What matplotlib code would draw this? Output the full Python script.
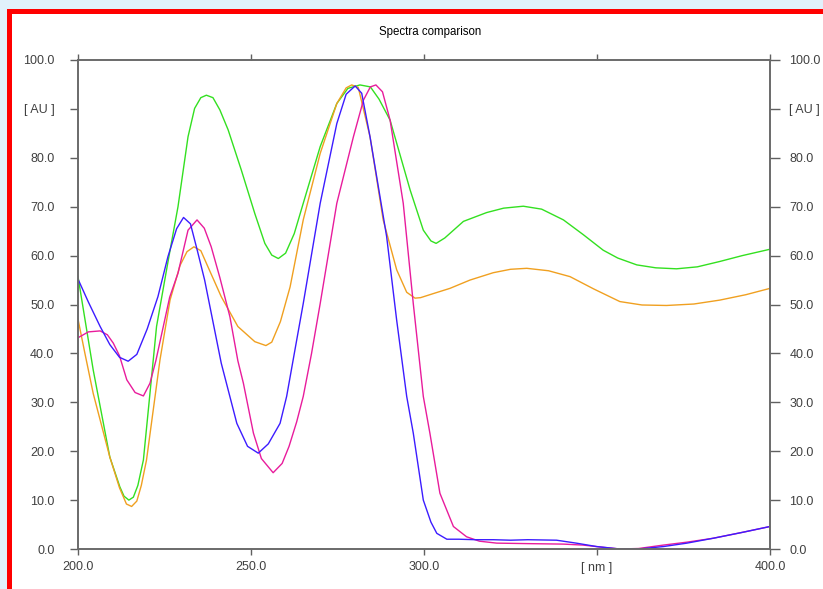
import matplotlib
matplotlib.use("Agg")
import matplotlib.pyplot as plt
from matplotlib.patches import Rectangle

# ----------------------------------------------------------------------------
# DATA: wavelength [nm] -> absorbance [AU]
# ----------------------------------------------------------------------------
green_nm = [200, 204.4, 209.2, 212.1, 213.3, 214.7, 216, 217.3, 218.9, 222.7,
            226.1, 228.9, 231.8, 233.7, 235.5, 237.1, 239, 241, 243.4, 247.2,
            251.1, 254, 256, 257.9, 260, 262.5, 265.1, 270, 274.8, 278,
            281.5, 284.5, 287, 290.2, 296, 299.8, 302, 303.5, 306, 311.4,
            318.1, 323, 328.7, 334, 340.3, 346, 351.8, 356, 361.5, 367,
            373, 379, 385.5, 392, 400]
green_au = [55.7, 36.6, 18.8, 12.7, 10.8, 10.0, 10.6, 13.0, 18.2, 45.5,
            59.1, 70.0, 84.3, 90.1, 92.3, 92.8, 92.3, 89.8, 85.7, 77.5,
            68.6, 62.5, 60.1, 59.4, 60.5, 64.5, 70.7, 82.3, 91.1, 94.2,
            94.9, 94.5, 92.0, 87.7, 73.4, 65.2, 63.0, 62.5, 63.6, 67.0,
            68.8, 69.7, 70.1, 69.5, 67.3, 64.3, 61.1, 59.5, 58.1, 57.5,
            57.3, 57.7, 58.8, 60.0, 61.3]

orange_nm = [200, 202, 204.4, 209.2, 212, 214, 215.5, 217, 218.3, 219.8,
             223.7, 226.6, 229.5, 231.5, 233.5, 235.5, 238, 241.4, 246.2, 251.1,
             254.3, 256, 258.5, 261.3, 265.1, 270, 274.8, 277.5, 279.1, 281,
             284.4, 288.2, 292.1, 295, 297.4, 299, 303, 307.5, 313.3, 320,
             325, 329.7, 336, 342.2, 349, 356.6, 363, 370.1, 378, 385.5,
             393, 400]
orange_au = [47.0, 40.0, 31.8, 18.8, 12.5, 9.2, 8.7, 9.8, 13.0, 18.2,
             38.7, 50.9, 58.0, 60.8, 61.8, 61.0, 57.0, 51.6, 45.5, 42.4,
             41.6, 42.3, 46.5, 53.6, 67.3, 80.9, 91.1, 94.3, 94.9, 94.4,
             84.3, 67.3, 57.1, 52.5, 51.3, 51.4, 52.3, 53.3, 55.0, 56.5,
             57.2, 57.4, 56.9, 55.7, 53.2, 50.6, 49.9, 49.8, 50.1, 50.9,
             52.0, 53.3]

blue_nm = [200, 203, 206.4, 209.2, 212, 214.5, 217, 220, 223.1, 226,
           228.5, 230.5, 232.5, 234.5, 236.6, 239, 241.4, 245.9, 249, 252.1,
           255, 258.4, 260.3, 263.2, 265.1, 270, 274.8, 277.5, 280.1, 282,
           284.4, 289.2, 292.1, 295, 296.9, 299.8, 302, 303.7, 306.6, 310,
           315, 320, 325, 330, 338.3, 344, 349.9, 356.6, 362, 369.2,
           376, 383.6, 392, 400]
blue_au = [55.2, 50.5, 45.5, 41.8, 39.2, 38.4, 39.8, 45.0, 51.6, 59.8,
           65.5, 67.8, 66.5, 61.0, 55.0, 46.5, 38.0, 25.7, 21.0, 19.6,
           21.5, 25.7, 31.2, 42.7, 50.2, 70.7, 87.0, 93.0, 94.7, 93.2,
           84.3, 63.9, 46.8, 31.2, 23.7, 10.0, 5.5, 3.2, 2.0, 2.0,
           1.9, 1.9, 1.8, 1.9, 1.8, 1.2, 0.5, 0.0, 0.0, 0.5,
           1.2, 2.2, 3.4, 4.6]

magenta_nm = [200, 203, 206.4, 208.5, 210.2, 212, 214.1, 216.5, 218.9, 220.8,
              222.5, 224.5, 226.5, 228.9, 231.8, 234.4, 236.5, 238.5, 241, 243.9,
              246.2, 247.8, 250.7, 253, 256.4, 259, 261, 263.2, 265.1, 267.5,
              270, 274.8, 279.6, 282.5, 284.5, 286.1, 288, 290.2, 294, 296.9,
              299.8, 301.7, 304.6, 308.5, 312.3, 316, 321, 330, 340.3, 346,
              351, 356.6, 362, 369.2, 376, 383.6, 392, 400]
magenta_au = [43.2, 44.4, 44.6, 43.8, 42.1, 39.5, 34.6, 32.0, 31.3, 33.9,
              38.5, 45.0, 51.5, 56.4, 65.2, 67.3, 65.6, 61.8, 55.5, 47.5,
              38.5, 33.9, 23.7, 18.5, 15.6, 17.5, 21.0, 26.0, 31.2, 40.0,
              50.2, 70.7, 84.3, 91.8, 94.5, 94.9, 93.5, 87.7, 70.7, 50.2,
              31.2, 23.7, 11.4, 4.6, 2.5, 1.6, 1.2, 1.1, 1.0, 0.8,
              0.4, 0.0, 0.1, 0.8, 1.4, 2.2, 3.4, 4.6]

x_ticks = [200, 250, 300, 350, 400]
x_labels = ["200.0", "250.0", "300.0", "[ nm ]", "400.0"]
y_ticks = list(range(0, 101, 10))
y_labels = ["0.0", "10.0", "20.0", "30.0", "40.0", "50.0", "60.0", "70.0",
            "80.0", "[ AU ]", "100.0"]

# ----------------------------------------------------------------------------
# FIGURE
# ----------------------------------------------------------------------------
fig = plt.figure(figsize=(8.23, 5.89), dpi=100)
fig.patch.set_facecolor("#e1f1fb")

W, H = 823.0, 589.0
# white panel and red frame (left and top edges), kept behind the axes
fig.patches.append(Rectangle((11.5 / W, 0), 1, 1 - 14 / H, transform=fig.transFigure,
                             facecolor="white", edgecolor="none", zorder=-2))
fig.patches.append(Rectangle((6.5 / W, 0), 5 / W, 1 - 9 / H, transform=fig.transFigure,
                             facecolor="#ff0000", edgecolor="none", zorder=-1))
fig.patches.append(Rectangle((6.5 / W, 1 - 14 / H), 1, 5 / H, transform=fig.transFigure,
                             facecolor="#ff0000", edgecolor="none", zorder=-1))

ax = fig.add_axes([78 / W, 40 / H, 692 / W, 489 / H])
ax.set_facecolor("white")

ax.plot(green_nm, green_au, color="#33e020", lw=1.0)
ax.plot(orange_nm, orange_au, color="#f0a020", lw=1.0)
ax.plot(magenta_nm, magenta_au, color="#e81c9c", lw=1.0)
ax.plot(blue_nm, blue_au, color="#3c1cff", lw=1.0)

ax.set_xlim(200, 400)
ax.set_ylim(0, 100)

lab_font = dict(family=["Liberation Sans", "DejaVu Sans"], size=9)
ax.set_xticks(x_ticks)
ax.set_xticklabels(x_labels, color="#404040", **lab_font)
ax.set_yticks(y_ticks)
ax.set_yticklabels(y_labels, color="#404040", **lab_font)
ax.tick_params(axis="x", direction="out", length=4, width=1, color="#606060",
               pad=5, top=True)
ax.tick_params(axis="y", direction="out", length=6, width=1, color="#606060",
               pad=11)

# right axis duplicates the left one
ax2 = ax.twinx()
ax2.set_ylim(0, 100)
ax2.set_yticks(y_ticks)
ax2.set_yticklabels(y_labels, color="#404040", **lab_font)
ax2.tick_params(axis="y", direction="out", length=7, width=1, color="#606060",
                pad=7)

for a in (ax, ax2):
    for side in ("left", "right", "bottom", "top"):
        a.spines[side].set_color("#6a6a6a")
        a.spines[side].set_linewidth(1.2)

fig.text(430 / W, 1 - 32 / H, "Spectra comparison", ha="center", va="center",
         family=["Liberation Sans", "DejaVu Sans"], size=8.3, color="black")

fig.savefig("out.png", dpi=100)
